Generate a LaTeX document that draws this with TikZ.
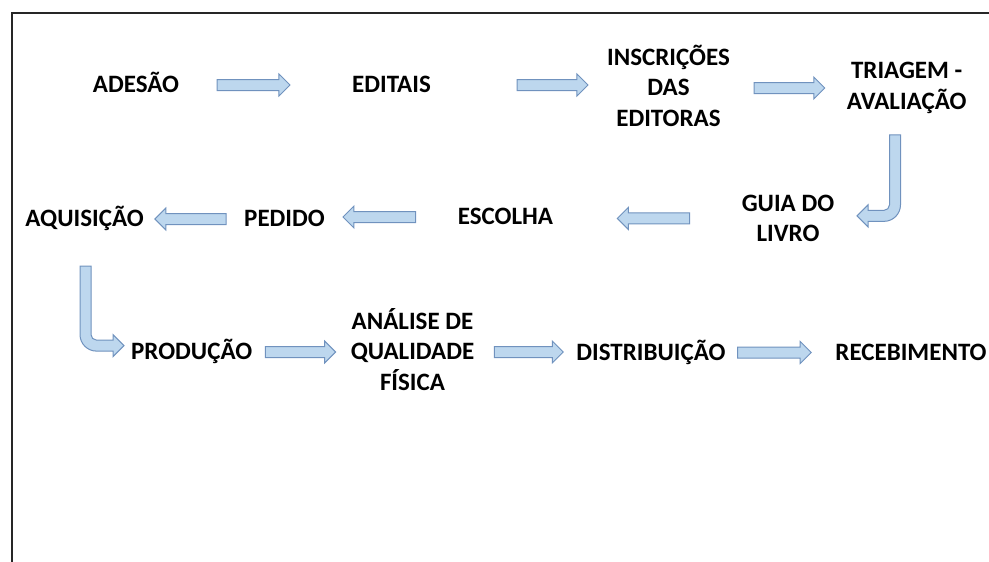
\documentclass[tikz,border=0pt]{standalone}
\usepackage{fontspec}
\setmainfont{Carlito}
\usetikzlibrary{calc}

\definecolor{arrowfill}{RGB}{189,215,238}
\definecolor{arrowline}{RGB}{112,146,190}

\tikzset{
  stage/.style={font=\bfseries\fontsize{25}{30.5}\selectfont, align=center,
    inner sep=0pt, text height=15.8pt, text depth=0pt},
  twolines/.style={stage, text height=46.3pt},
  threelines/.style={stage, text height=76.8pt},
  arrowbody/.style={draw=arrowline, fill=arrowfill, line width=1pt},
  blockarrow/.style={arrowbody,
    to path={let \p1=(\tikztostart), \p2=(\tikztotarget),
      \p3=($(\p2)!11pt!(\x1,\y2)$) in
      (\x1,\y1+5.5pt) -- (\x3,\y1+5.5pt) -- (\x3,\y1+11pt) -- (\x2,\y1)
      -- (\x3,\y1-11pt) -- (\x3,\y1-5.5pt) -- (\x1,\y1-5.5pt) -- cycle}}
}

\begin{document}
\begin{tikzpicture}[x=1pt,y=-1pt]
\useasboundingbox (0,0) rectangle (989,562);
\draw[line width=2pt, black!85] (11.5,562) -- (11.5,13) -- (989,13);

% first row
\node[stage] (adesao) at (136,85) {ADESÃO};
\node[stage] (editais) at (391.5,85) {EDITAIS};
\node[threelines] (inscricoes) at (668.5,88) {INSCRIÇÕES\\DAS\\EDITORAS};
\node[twolines] (triagem) at (906.7,86) {TRIAGEM -\\AVALIAÇÃO};

% second row
\node[twolines] (guia) at (788,218.4) {GUIA DO\\LIVRO};
\node[stage] (escolha) at (505.5,217) {ESCOLHA};
\node[stage] (pedido) at (284.5,219) {PEDIDO};
\node[stage] (aquisicao) at (84.5,219) {AQUISIÇÃO};

% third row
\node[stage] (producao) at (191.7,352) {PRODUÇÃO};
\node[threelines] (analise) at (412.5,352) {ANÁLISE DE\\QUALIDADE\\FÍSICA};
\node[stage] (distribuicao) at (651,352.5) {DISTRIBUIÇÃO};
\node[stage] (recebimento) at (911,352.5) {RECEBIMENTO};

% arrows
\draw[blockarrow] ([xshift=38pt]adesao.east) to ([xshift=-62pt]editais.west);
\draw[blockarrow] ([xshift=86pt]editais.east) to ([xshift=-19pt]inscricoes.west);
\draw[blockarrow] ([xshift=24pt]inscricoes.east) to ([xshift=-22pt]triagem.west);
\draw[arrowbody] ([shift={(-17.2,25.5)}]triagem.south) -- ++(11,0) -- ++(0,70)
  arc[start angle=0, end angle=90, radius=16.5] -- ++(-16,0) -- ++(0,5.5)
  -- ++(-11,-11) -- ++(11,-11) -- ++(0,5.5) -- ++(16,0)
  arc[start angle=90, end angle=0, radius=5.5] -- cycle;
\draw[blockarrow] ([xshift=-52pt]guia.west) to ([xshift=64pt]escolha.east);
\draw[blockarrow] ([xshift=-42pt]escolha.west) to ([xshift=18pt]pedido.east);
\draw[blockarrow] ([xshift=-18pt]pedido.west) to ([xshift=11pt]aquisicao.east);
\draw[arrowbody] ([shift={(-4.5,39)}]aquisicao.south) -- ++(11,0) -- ++(0,68.5)
  arc[start angle=180, end angle=90, radius=5.5] -- ++(16.5,0) -- ++(0,-5.5)
  -- ++(11,11) -- ++(-11,11) -- ++(0,-5.5) -- ++(-16.5,0)
  arc[start angle=90, end angle=180, radius=16.5] -- cycle;
\draw[blockarrow] ([xshift=13pt]producao.east) to ([xshift=-15pt]analise.west);
\draw[blockarrow] ([xshift=20pt]analise.east) to ([xshift=-13pt]distribuicao.west);
\draw[blockarrow] ([xshift=12pt]distribuicao.east) to ([xshift=-24pt]recebimento.west);
\end{tikzpicture}
\end{document}
